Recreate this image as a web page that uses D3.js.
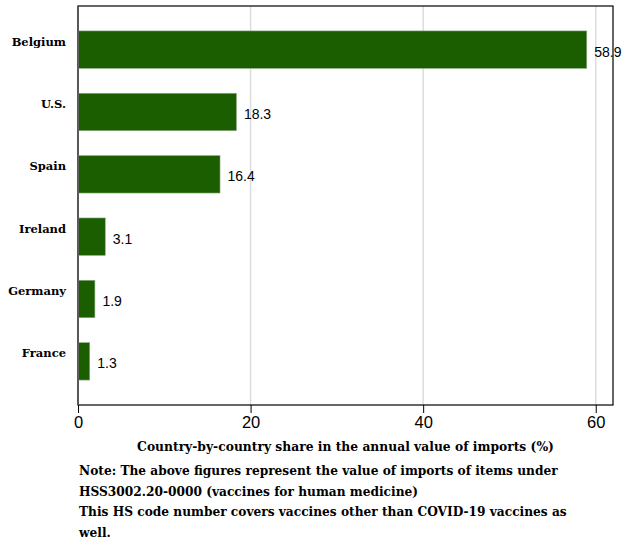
<!DOCTYPE html>
<head>
<meta charset="utf-8">
<style>
body { margin: 0; background: #fff; }
.lab { font-family: "DejaVu Serif", serif; font-weight: bold; fill: #000; }
.val { font-family: "Liberation Sans", Arial, sans-serif; fill: #000; }
</style>
</head>
<body>
<div id="chart"></div>
<script src="https://d3js.org/d3.v7.min.js"></script>
<script>
(function() {
  "use strict";

  var countries = ["Belgium", "U.S.", "Spain", "Ireland", "Germany", "France"];
  var shares = [58.9, 18.3, 16.4, 3.1, 1.9, 1.3];
  var xTicks = [0, 20, 40, 60];
  var xTitle = "Country-by-country share in the annual value of imports (%)";
  var notes = [
    "Note: The above figures represent the value of imports of items under",
    "HSS3002.20-0000 (vaccines for human medicine)",
    "This HS code number covers vaccines other than COVID-19 vaccines as",
    "well."
  ];

  var
    W = 625,
    H = 550,
    left = 78,
    right = 613,
    top = 6,
    bottom = 405;

  var svg = d3.select("#chart")
    .append("svg")
      .attr("width", W)
      .attr("height", H);

  var x = d3.scaleLinear().domain([0, 62]).range([left, right]);
  var y = d3.scaleBand().domain(countries).range([top, bottom])
    .paddingInner(0.4).paddingOuter(0.4);

  var rows = countries.map(function(c, i) { return {name: c, v: shares[i]}; });

  // grid lines
  svg.selectAll(".grid")
    .data(xTicks.filter(function(t) { return t > 0; }))
    .enter().append("line")
      .attr("x1", function(d) { return x(d); })
      .attr("x2", function(d) { return x(d); })
      .attr("y1", top)
      .attr("y2", bottom)
      .attr("stroke", "#dcdcdc")
      .attr("stroke-width", 1.5);

  // plot frame
  svg.append("rect")
    .attr("x", left)
    .attr("y", top)
    .attr("width", right - left)
    .attr("height", bottom - top)
    .attr("fill", "none")
    .attr("stroke", "#000")
    .attr("stroke-width", 1.2);

  svg.selectAll(".bar")
    .data(rows)
    .enter().append("rect")
      .attr("x", x(0) + 0.5)
      .attr("y", function(d) { return y(d.name); })
      .attr("width", function(d) { return x(d.v) - x(0); })
      .attr("height", y.bandwidth())
      .attr("fill", "#1a5e00")
      .attr("stroke", "#8aa882")
      .attr("stroke-width", 0.6);

  svg.selectAll(".val")
    .data(rows)
    .enter().append("text")
      .attr("class", "val")
      .attr("x", function(d) { return x(d.v) + 8; })
      .attr("y", function(d) { return y(d.name) + y.bandwidth() / 2 + 7; })
      .attr("font-size", 14)
      .text(function(d) { return d.v.toFixed(1); });

  // left axis line (gray)
  svg.append("line")
    .attr("x1", left).attr("x2", left)
    .attr("y1", top).attr("y2", bottom)
    .attr("stroke", "#555")
    .attr("stroke-width", 1.5);

  svg.selectAll(".lab")
    .data(rows)
    .enter().append("text")
      .attr("class", "lab")
      .attr("x", 66)
      .attr("y", function(d) { return y(d.name) + y.bandwidth() / 2 - 4; })
      .attr("text-anchor", "end")
      .attr("font-size", 11.5)
      .text(function(d) { return d.name; });

  var xAxis = svg.append("g")
    .attr("transform", "translate(0," + bottom + ")")
    .call(d3.axisBottom(x).tickValues(xTicks).tickSize(8).tickPadding(3));
  xAxis.select(".domain").remove();
  xAxis.selectAll("line").attr("stroke", "#000");
  xAxis.selectAll("text")
    .attr("font-family", "Liberation Sans, Arial, sans-serif")
    .attr("font-size", 16.5)
    .attr("fill", "#000");

  svg.append("text")
    .attr("class", "lab")
    .attr("x", (left + right) / 2)
    .attr("y", 451)
    .attr("text-anchor", "middle")
    .attr("font-size", 12.3)
    .text(xTitle);

  svg.selectAll(".note")
    .data(notes)
    .enter().append("text")
      .attr("class", "lab")
      .attr("x", 79)
      .attr("y", function(d, i) { return 475 + i * 20.7; })
      .attr("font-size", 12.2)
      .text(function(d) { return d; });

})();
</script>
</body>
